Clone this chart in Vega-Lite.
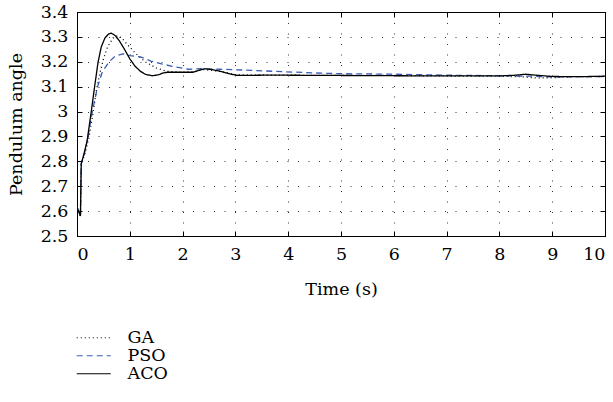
{
  "$schema": "https://vega.github.io/schema/vega-lite/v6.json",
  "autosize": {"type": "none"},
  "padding": {"left": 77, "top": 12, "right": 8, "bottom": 166},
  "width": 528,
  "height": 224,
  "background": "white",
  "config": {
    "font": "DejaVu Serif",
    "view": {"stroke": "black", "strokeWidth": 1},
    "axis": {
      "labelFont": "DejaVu Serif",
      "titleFont": "DejaVu Serif",
      "labelFontSize": 17.5,
      "titleFontSize": 17.5,
      "labelColor": "black",
      "titleColor": "black",
      "titleFontWeight": "normal",
      "domainColor": "black",
      "tickColor": "black",
      "grid": true,
      "gridColor": "black",
      "gridDash": [1, 9.5],
      "gridOpacity": 0.8,
      "tickSize": -5,
      "labelPadding": 14
    },
    "legend": {
      "labelFont": "DejaVu Serif",
      "labelFontSize": 17.5,
      "labelColor": "black"
    }
  },
  "data": {
    "values": [
      {"t": 0, "v": 2.615, "s": "GA"},
      {"t": 0.03, "v": 2.6, "s": "GA"},
      {"t": 0.065, "v": 2.58, "s": "GA"},
      {"t": 0.08, "v": 2.79, "s": "GA"},
      {"t": 0.15, "v": 2.83, "s": "GA"},
      {"t": 0.23, "v": 2.9, "s": "GA"},
      {"t": 0.3, "v": 2.99, "s": "GA"},
      {"t": 0.37, "v": 3.09, "s": "GA"},
      {"t": 0.44, "v": 3.16, "s": "GA"},
      {"t": 0.5, "v": 3.21, "s": "GA"},
      {"t": 0.58, "v": 3.26, "s": "GA"},
      {"t": 0.68, "v": 3.295, "s": "GA"},
      {"t": 0.77, "v": 3.305, "s": "GA"},
      {"t": 0.85, "v": 3.295, "s": "GA"},
      {"t": 0.95, "v": 3.27, "s": "GA"},
      {"t": 1.1, "v": 3.236, "s": "GA"},
      {"t": 1.29, "v": 3.2, "s": "GA"},
      {"t": 1.5, "v": 3.175, "s": "GA"},
      {"t": 1.7, "v": 3.162, "s": "GA"},
      {"t": 2.0, "v": 3.158, "s": "GA"},
      {"t": 2.2, "v": 3.16, "s": "GA"},
      {"t": 2.4, "v": 3.169, "s": "GA"},
      {"t": 2.7, "v": 3.162, "s": "GA"},
      {"t": 3.0, "v": 3.148, "s": "GA"},
      {"t": 4.0, "v": 3.146, "s": "GA"},
      {"t": 5.0, "v": 3.145, "s": "GA"},
      {"t": 6.0, "v": 3.145, "s": "GA"},
      {"t": 7.0, "v": 3.143, "s": "GA"},
      {"t": 8.0, "v": 3.142, "s": "GA"},
      {"t": 8.4, "v": 3.14, "s": "GA"},
      {"t": 8.7, "v": 3.135, "s": "GA"},
      {"t": 9.0, "v": 3.136, "s": "GA"},
      {"t": 9.3, "v": 3.14, "s": "GA"},
      {"t": 10.0, "v": 3.141, "s": "GA"},

      {"t": 0, "v": 2.615, "s": "PSO"},
      {"t": 0.03, "v": 2.6, "s": "PSO"},
      {"t": 0.065, "v": 2.58, "s": "PSO"},
      {"t": 0.08, "v": 2.79, "s": "PSO"},
      {"t": 0.14, "v": 2.83, "s": "PSO"},
      {"t": 0.21, "v": 2.9, "s": "PSO"},
      {"t": 0.29, "v": 3.0, "s": "PSO"},
      {"t": 0.39, "v": 3.1, "s": "PSO"},
      {"t": 0.48, "v": 3.16, "s": "PSO"},
      {"t": 0.61, "v": 3.2, "s": "PSO"},
      {"t": 0.72, "v": 3.222, "s": "PSO"},
      {"t": 0.87, "v": 3.232, "s": "PSO"},
      {"t": 1.0, "v": 3.225, "s": "PSO"},
      {"t": 1.2, "v": 3.22, "s": "PSO"},
      {"t": 1.4, "v": 3.203, "s": "PSO"},
      {"t": 1.6, "v": 3.192, "s": "PSO"},
      {"t": 1.8, "v": 3.182, "s": "PSO"},
      {"t": 2.1, "v": 3.17, "s": "PSO"},
      {"t": 2.35, "v": 3.172, "s": "PSO"},
      {"t": 2.7, "v": 3.17, "s": "PSO"},
      {"t": 3.0, "v": 3.168, "s": "PSO"},
      {"t": 3.7, "v": 3.162, "s": "PSO"},
      {"t": 4.5, "v": 3.155, "s": "PSO"},
      {"t": 5.0, "v": 3.152, "s": "PSO"},
      {"t": 6.0, "v": 3.15, "s": "PSO"},
      {"t": 7.0, "v": 3.146, "s": "PSO"},
      {"t": 8.0, "v": 3.144, "s": "PSO"},
      {"t": 8.6, "v": 3.142, "s": "PSO"},
      {"t": 9.0, "v": 3.139, "s": "PSO"},
      {"t": 9.5, "v": 3.14, "s": "PSO"},
      {"t": 10.0, "v": 3.141, "s": "PSO"},

      {"t": 0, "v": 2.615, "s": "ACO"},
      {"t": 0.03, "v": 2.6, "s": "ACO"},
      {"t": 0.065, "v": 2.58, "s": "ACO"},
      {"t": 0.08, "v": 2.79, "s": "ACO"},
      {"t": 0.12, "v": 2.82, "s": "ACO"},
      {"t": 0.19, "v": 2.88, "s": "ACO"},
      {"t": 0.27, "v": 3.0, "s": "ACO"},
      {"t": 0.34, "v": 3.11, "s": "ACO"},
      {"t": 0.4, "v": 3.2, "s": "ACO"},
      {"t": 0.46, "v": 3.26, "s": "ACO"},
      {"t": 0.53, "v": 3.296, "s": "ACO"},
      {"t": 0.6, "v": 3.312, "s": "ACO"},
      {"t": 0.65, "v": 3.315, "s": "ACO"},
      {"t": 0.72, "v": 3.306, "s": "ACO"},
      {"t": 0.8, "v": 3.285, "s": "ACO"},
      {"t": 0.9, "v": 3.25, "s": "ACO"},
      {"t": 1.0, "v": 3.212, "s": "ACO"},
      {"t": 1.1, "v": 3.182, "s": "ACO"},
      {"t": 1.2, "v": 3.162, "s": "ACO"},
      {"t": 1.3, "v": 3.149, "s": "ACO"},
      {"t": 1.43, "v": 3.144, "s": "ACO"},
      {"t": 1.55, "v": 3.148, "s": "ACO"},
      {"t": 1.63, "v": 3.155, "s": "ACO"},
      {"t": 1.72, "v": 3.158, "s": "ACO"},
      {"t": 2.0, "v": 3.158, "s": "ACO"},
      {"t": 2.2, "v": 3.158, "s": "ACO"},
      {"t": 2.3, "v": 3.165, "s": "ACO"},
      {"t": 2.42, "v": 3.172, "s": "ACO"},
      {"t": 2.55, "v": 3.169, "s": "ACO"},
      {"t": 2.75, "v": 3.16, "s": "ACO"},
      {"t": 2.9, "v": 3.151, "s": "ACO"},
      {"t": 3.05, "v": 3.145, "s": "ACO"},
      {"t": 3.5, "v": 3.146, "s": "ACO"},
      {"t": 4.0, "v": 3.146, "s": "ACO"},
      {"t": 5.0, "v": 3.145, "s": "ACO"},
      {"t": 6.0, "v": 3.144, "s": "ACO"},
      {"t": 7.0, "v": 3.143, "s": "ACO"},
      {"t": 8.0, "v": 3.143, "s": "ACO"},
      {"t": 8.3, "v": 3.146, "s": "ACO"},
      {"t": 8.5, "v": 3.15, "s": "ACO"},
      {"t": 8.7, "v": 3.146, "s": "ACO"},
      {"t": 9.0, "v": 3.141, "s": "ACO"},
      {"t": 9.5, "v": 3.14, "s": "ACO"},
      {"t": 10.0, "v": 3.142, "s": "ACO"}
    ]
  },
  "layer": [
    {
      "mark": {"type": "line", "strokeWidth": 1.3, "clip": true},
      "encoding": {
        "x": {
          "field": "t", "type": "quantitative",
          "scale": {"domain": [0, 10], "nice": false},
          "axis": {"title": "Time (s)", "values": [0,1,2,3,4,5,6,7,8,9,10], "titlePadding": 18}
        },
        "y": {
          "field": "v", "type": "quantitative",
          "scale": {"domain": [2.5, 3.4], "nice": false, "zero": false},
          "axis": {"title": "Pendulum angle", "values": [2.5,2.6,2.7,2.8,2.9,3.0,3.1,3.2,3.3,3.4], "format": ".2~f", "titlePadding": 15}
        },
        "color": {
          "field": "s", "type": "nominal",
          "scale": {"domain": ["GA", "PSO", "ACO"], "range": ["black", "#3a5cb4", "black"]},
          "legend": {
            "orient": "none", "legendX": 8, "legendY": 317, "title": null,
            "symbolType": "M-2.5,0H2.5", "symbolSize": 185, "symbolStrokeWidth": 1.2,
            "rowPadding": -2.5, "labelOffset": 25
          }
        },
        "strokeDash": {
          "field": "s", "type": "nominal",
          "scale": {"domain": ["GA", "PSO", "ACO"], "range": [[1, 3], [6, 4], [1, 0]]},
          "legend": null
        },
        "order": {"field": "t", "type": "quantitative"}
      }
    },
    {
      "mark": {"type": "rule", "opacity": 0},
      "encoding": {
        "x": {"field": "t", "type": "quantitative", "scale": {"domain": [0, 10], "nice": false},
          "axis": {"orient": "top", "labels": false, "title": null, "grid": false, "values": [0,1,2,3,4,5,6,7,8,9,10]}},
        "y": {"field": "v", "type": "quantitative", "scale": {"domain": [2.5, 3.4], "nice": false, "zero": false},
          "axis": {"orient": "right", "labels": false, "title": null, "grid": false, "values": [2.5,2.6,2.7,2.8,2.9,3.0,3.1,3.2,3.3,3.4]}}
      }
    }
  ],
  "resolve": {"axis": {"x": "independent", "y": "independent"}}
}
